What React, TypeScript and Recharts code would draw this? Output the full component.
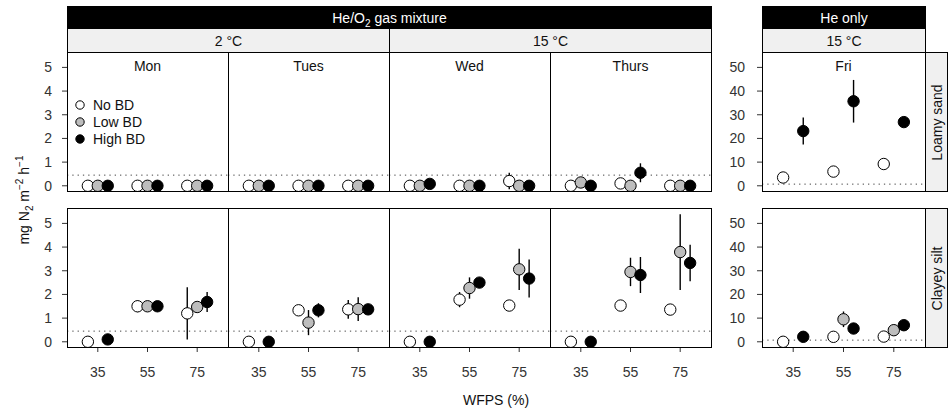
import React from 'react';
import { ScatterChart, Scatter, XAxis, YAxis, ErrorBar, ReferenceLine } from 'recharts';

const wfps = [35, 55, 75];
const days = ['Mon', 'Tues', 'Wed', 'Thurs', 'Fri'];
const soils = ['Loamy sand', 'Clayey silt'];
const treatments = ['No BD', 'Low BD', 'High BD'];
const treatmentFill = ['#ffffff', '#bdbdbd', '#000000'];
const treatmentShift = [-4, 0, 4];
const yTicksHeO2 = [0, 1, 2, 3, 4, 5];
const yTicksHe = [0, 10, 20, 30, 40, 50];
const detectionHeO2 = 0.45;
const detectionHe = 0.7;

// one row per day (Mon..Fri), one value per WFPS level, null = not measured
const sandNoBD = [[0, 0, 0], [0, 0, 0], [0, 0, 0.2], [0, 0.1, 0], [3.5, 6.0, 9.2]];
const sandNoBDErr = [[0, 0, 0], [0, 0, 0], [0, 0, 0.35], [0, 0, 0], [0, 0, 0]];
const sandLowBD = [[0, 0, 0], [0, 0, 0], [0, 0, 0], [0.14, 0, 0], [null, null, null]];
const sandLowBDErr = [[0, 0, 0], [0, 0, 0], [0, 0, 0], [0, 0, 0], [0, 0, 0]];
const sandHighBD = [[0, 0, 0], [0, 0, 0], [0.08, 0, 0], [0, 0.55, 0], [23.1, 35.7, 26.9]];
const sandHighBDErr = [[0, 0, 0], [0, 0, 0], [0, 0, 0], [0, 0.4, 0], [5.7, 9, 0]];

const clayNoBD = [[0, 1.5, 1.2], [0, 1.33, 1.37], [0, 1.78, 1.53], [0, 1.53, 1.36], [0, 2.1, 2.2]];
const clayNoBDErr = [[0, 0.25, 1.1], [0, 0, 0.4], [0, 0.32, 0], [0, 0, 0], [0, 0, 0]];
const clayLowBD = [[null, 1.5, 1.47], [null, 0.81, 1.38], [null, 2.27, 3.06], [null, 2.95, 3.79], [null, 9.5, 4.9]];
const clayLowBDErr = [[0, 0.2, 0], [0, 0.53, 0.5], [0, 0.45, 0.87], [0, 0.6, 1.6], [0, 3.3, 0]];
const clayHighBD = [[0.1, 1.5, 1.68], [0, 1.33, 1.37], [0, 2.5, 2.67], [0, 2.82, 3.33], [2.1, 5.6, 7.0]];
const clayHighBDErr = [[0, 0, 0.42], [0, 0.3, 0], [0, 0.15, 0.8], [0, 0.76, 0.77], [0, 0, 0]];

const values = [[sandNoBD, sandLowBD, sandHighBD], [clayNoBD, clayLowBD, clayHighBD]];
const errors = [[sandNoBDErr, sandLowBDErr, sandHighBDErr], [clayNoBDErr, clayLowBDErr, clayHighBDErr]];

// layout (px)
const colX = [[67, 228], [228, 389], [389, 550], [550, 711], [762, 925]];
const rowY = [[52, 191], [208, 347]];
const FONT = '"Liberation Sans", Arial, Helvetica, sans-serif';
const FS = 14;

function Panel({ row, col }: { row: number; col: number }) {
  const [x0, x1] = colX[col];
  const [y0, y1] = rowY[row];
  const heOnly = col === 4;
  const showY = col === 0 || col === 4;
  const axisW = 50;
  const xAxisH = row === 1 ? 40 : 8;
  const w = x1 - x0 + (showY ? axisW : 0);
  const h = y1 - y0 + xAxisH;

  return (
    <>
      <div style={{ position: 'absolute', left: x0 - (showY ? axisW : 0), top: y0 }}>
        <ScatterChart width={w} height={h} margin={{ top: 0, right: 0, bottom: 0, left: 0 }}>
          <XAxis
            type="number"
            dataKey="x"
            domain={[22.6, 87.4]}
            ticks={wfps}
            allowDataOverflow
            axisLine={false}
            tickLine={{ stroke: '#333' }}
            tickSize={5}
            tickMargin={15}
            tick={row === 1 ? { fontSize: FS, fill: '#333' } : false}
            height={xAxisH}
            interval={0}
          />
          <YAxis
            type="number"
            dataKey="y"
            domain={heOnly ? [-2.2, 56.5] : [-0.22, 5.65]}
            ticks={heOnly ? yTicksHe : yTicksHeO2}
            allowDataOverflow
            hide={!showY}
            width={axisW}
            axisLine={false}
            tickLine={{ stroke: '#333' }}
            tickSize={5}
            tickMargin={heOnly ? 12 : 10}
            tick={{ fontSize: FS, fill: '#333' }}
            interval={0}
          />
          <ReferenceLine
            y={heOnly ? detectionHe : detectionHeO2}
            stroke="#444"
            strokeDasharray="1.3 4"
            strokeWidth={1}
          />
          {treatments.map((t, k) => {
            const pts = wfps
              .map((wv, i) => ({
                x: wv + treatmentShift[k],
                y: values[row][k][col][i],
                err: errors[row][k][col][i],
              }))
              .filter((p) => p.y !== null);
            return (
              <Scatter
                key={t}
                name={t}
                data={pts}
                isAnimationActive={false}
                shape={(p: any) => (
                  <circle cx={p.cx} cy={p.cy} r={5.7} fill={treatmentFill[k]} stroke="#000" strokeWidth={1} />
                )}
              >
                <ErrorBar dataKey="err" direction="y" width={0} stroke="#000" strokeWidth={1.4} />
              </Scatter>
            );
          })}
        </ScatterChart>
      </div>
      <div
        style={{
          position: 'absolute',
          left: x0,
          top: y0,
          width: x1 - x0 + 1,
          height: y1 - y0 + 1,
          border: '1px solid #000',
          boxSizing: 'border-box',
          pointerEvents: 'none',
        }}
      />
      {row === 0 && (
        <div
          style={{
            position: 'absolute',
            left: x0,
            width: x1 - x0,
            top: 58,
            textAlign: 'center',
            fontSize: FS,
            lineHeight: '17px',
            color: '#111',
          }}
        >
          {days[col]}
        </div>
      )}
    </>
  );
}

function Strip({ x0, x1, y0, y1, dark, children }: any) {
  return (
    <div
      style={{
        position: 'absolute',
        left: x0,
        top: y0,
        width: x1 - x0 + 1,
        height: y1 - y0 + 1,
        background: dark ? '#000' : '#f0f0f0',
        color: dark ? '#fff' : '#111',
        border: '1px solid #000',
        boxSizing: 'border-box',
        fontSize: FS,
        display: 'flex',
        alignItems: 'center',
        justifyContent: 'center',
      }}
    >
      {children}
    </div>
  );
}

function SideStrip({ y0, y1, label }: { y0: number; y1: number; label: string }) {
  return (
    <div
      style={{
        position: 'absolute',
        left: 925,
        top: y0,
        width: 23,
        height: y1 - y0 + 1,
        background: '#f0f0f0',
        border: '1px solid #000',
        boxSizing: 'border-box',
      }}
    >
      <div
        style={{
          position: 'absolute',
          left: 11 - 60,
          top: (y1 - y0) / 2 - 9,
          width: 120,
          textAlign: 'center',
          fontSize: FS,
          lineHeight: '17px',
          color: '#111',
          transform: 'rotate(-90deg)',
        }}
      >
        {label}
      </div>
    </div>
  );
}

function Legend() {
  return (
    <div style={{ position: 'absolute', left: 74, top: 96 }}>
      {treatments.map((t, k) => (
        <div key={t} style={{ display: 'flex', alignItems: 'center', height: 17, fontSize: FS, color: '#111' }}>
          <svg width={14} height={14} style={{ marginRight: 5 }}>
            <circle cx={6} cy={7} r={4.2} fill={treatmentFill[k]} stroke="#000" strokeWidth={1} />
          </svg>
          {t}
        </div>
      ))}
    </div>
  );
}

export default function App() {
  const subStyle = { fontSize: 10, lineHeight: 0 };
  return (
    <div
      style={{
        position: 'absolute',
        left: 0,
        top: 0,
        width: 948,
        height: 416,
        background: '#fff',
        fontFamily: FONT,
        overflow: 'hidden',
      }}
    >
      <Strip x0={67} x1={711} y0={6} y1={28} dark>
        <span>
          He/O<sub style={subStyle}>2</sub> gas mixture
        </span>
      </Strip>
      <Strip x0={67} x1={389} y0={28} y1={52}>2 °C</Strip>
      <Strip x0={389} x1={711} y0={28} y1={52}>15 °C</Strip>
      <Strip x0={762} x1={925} y0={6} y1={28} dark>He only</Strip>
      <Strip x0={762} x1={925} y0={28} y1={52}>15 °C</Strip>

      {[0, 1].map((row) => days.map((d, col) => <Panel key={d + row} row={row} col={col} />))}

      <SideStrip y0={rowY[0][0]} y1={rowY[0][1]} label={soils[0]} />
      <SideStrip y0={rowY[1][0]} y1={rowY[1][1]} label={soils[1]} />

      <Legend />

      <div
        style={{
          position: 'absolute',
          left: 24 - 100,
          top: 200 - 9,
          width: 200,
          textAlign: 'center',
          fontSize: FS,
          lineHeight: '18px',
          color: '#111',
          transform: 'rotate(-90deg)',
        }}
      >
        mg N<sub style={subStyle}>2</sub> m<sup style={subStyle}>−2</sup> h<sup style={subStyle}>−1</sup>
      </div>

      <div
        style={{
          position: 'absolute',
          left: 67,
          width: 858,
          top: 391,
          textAlign: 'center',
          fontSize: FS,
          lineHeight: '18px',
          color: '#111',
        }}
      >
        WFPS (%)
      </div>
    </div>
  );
}
